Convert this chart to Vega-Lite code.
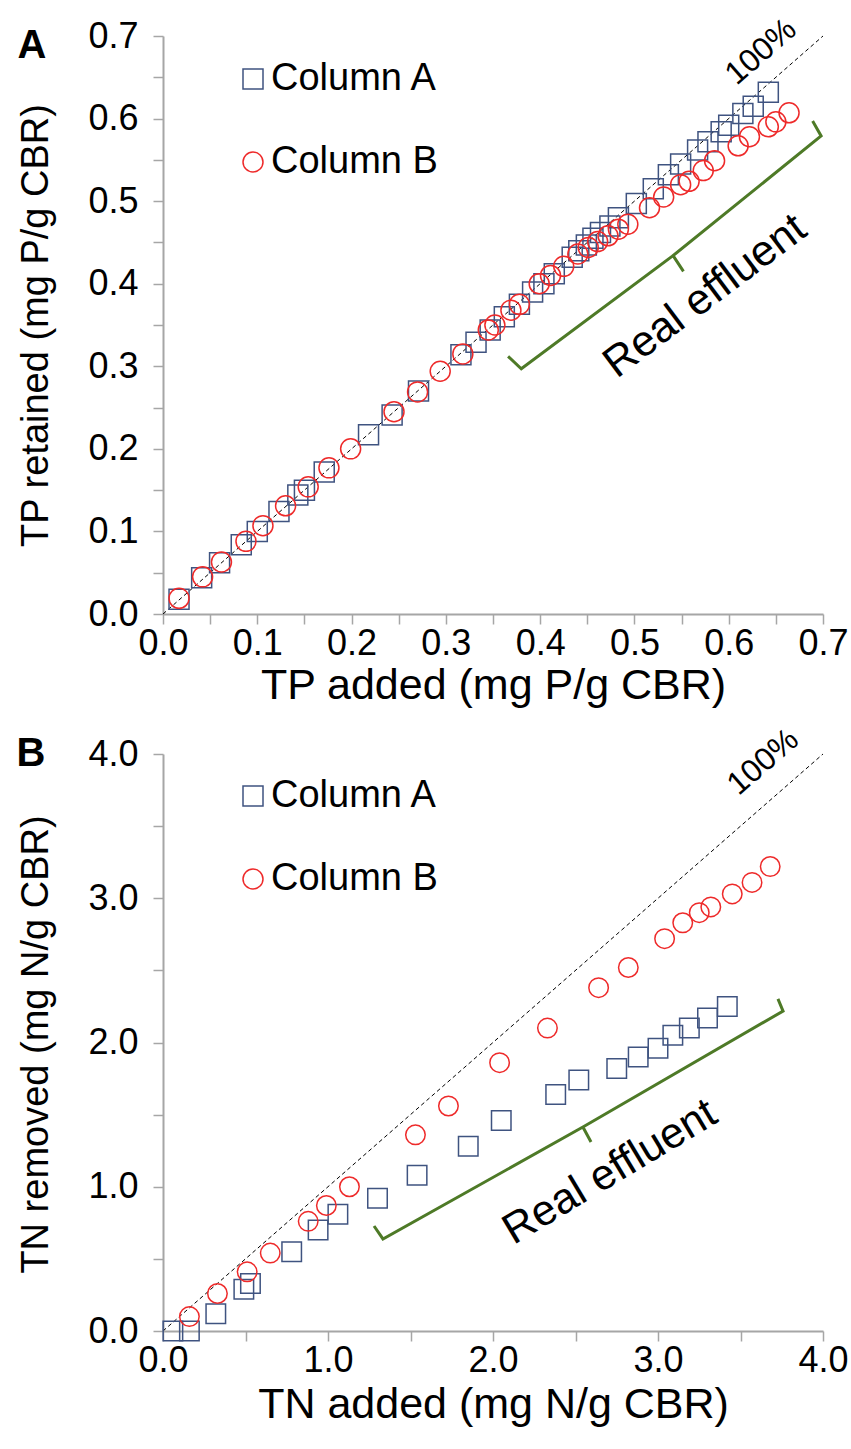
{
  "$schema": "https://vega.github.io/schema/vega-lite/v6.json",
  "padding": {"left": 16, "top": 12, "right": 5, "bottom": 5},
  "background": "white",
  "config": {
    "font": "Liberation Sans",
    "view": {"stroke": null},
    "axis": {
      "grid": false, "domainColor": "#a6a6a6", "domainWidth": 2,
      "tickColor": "#a6a6a6", "tickWidth": 1.5, "tickSize": 10,
      "labelFont": "Liberation Sans", "labelFontSize": 36, "labelColor": "#000000",
      "titleFont": "Liberation Sans", "titleFontSize": 38, "titleFontWeight": "normal", "titleColor": "#000000",
      "labelOverlap": false, "labelFlush": false, "labelBound": false
    },
    "legend": {
      "labelFont": "Liberation Sans", "labelFontSize": 38, "labelColor": "#000000", "labelLimit": 0,
      "symbolSize": 400, "symbolStrokeWidth": 1.5, "rowPadding": 45, "labelOffset": -1, "padding": 0
    }
  },
  "datasets": {
    "pa": [
      {"series":"Column A","x":0.017,"y":0.018},{"series":"Column A","x":0.041,"y":0.044},{"series":"Column A","x":0.060,"y":0.062},
      {"series":"Column A","x":0.083,"y":0.084},{"series":"Column A","x":0.100,"y":0.100},{"series":"Column A","x":0.123,"y":0.124},
      {"series":"Column A","x":0.143,"y":0.144},{"series":"Column A","x":0.150,"y":0.150},{"series":"Column A","x":0.171,"y":0.172},
      {"series":"Column A","x":0.218,"y":0.217},{"series":"Column A","x":0.243,"y":0.241},{"series":"Column A","x":0.271,"y":0.270},
      {"series":"Column A","x":0.316,"y":0.314},{"series":"Column A","x":0.332,"y":0.329},{"series":"Column A","x":0.347,"y":0.344},
      {"series":"Column A","x":0.362,"y":0.360},{"series":"Column A","x":0.378,"y":0.375},{"series":"Column A","x":0.392,"y":0.390},
      {"series":"Column A","x":0.404,"y":0.400},{"series":"Column A","x":0.415,"y":0.412},{"series":"Column A","x":0.434,"y":0.432},
      {"series":"Column A","x":0.441,"y":0.440},{"series":"Column A","x":0.449,"y":0.447},{"series":"Column A","x":0.456,"y":0.455},
      {"series":"Column A","x":0.464,"y":0.462},{"series":"Column A","x":0.474,"y":0.470},{"series":"Column A","x":0.483,"y":0.480},
      {"series":"Column A","x":0.502,"y":0.497},{"series":"Column A","x":0.520,"y":0.515},{"series":"Column A","x":0.536,"y":0.532},
      {"series":"Column A","x":0.549,"y":0.545},{"series":"Column A","x":0.567,"y":0.562},{"series":"Column A","x":0.578,"y":0.572},
      {"series":"Column A","x":0.592,"y":0.584},{"series":"Column A","x":0.600,"y":0.592},{"series":"Column A","x":0.615,"y":0.606},
      {"series":"Column A","x":0.626,"y":0.615},{"series":"Column A","x":0.642,"y":0.632},
      {"series":"Column B","x":0.017,"y":0.019},{"series":"Column B","x":0.042,"y":0.045},{"series":"Column B","x":0.062,"y":0.063},
      {"series":"Column B","x":0.088,"y":0.088},{"series":"Column B","x":0.106,"y":0.107},{"series":"Column B","x":0.130,"y":0.131},
      {"series":"Column B","x":0.154,"y":0.154},{"series":"Column B","x":0.176,"y":0.177},{"series":"Column B","x":0.199,"y":0.200},
      {"series":"Column B","x":0.245,"y":0.245},{"series":"Column B","x":0.270,"y":0.269},{"series":"Column B","x":0.294,"y":0.294},
      {"series":"Column B","x":0.318,"y":0.315},{"series":"Column B","x":0.345,"y":0.344},{"series":"Column B","x":0.352,"y":0.350},
      {"series":"Column B","x":0.369,"y":0.368},{"series":"Column B","x":0.378,"y":0.375},{"series":"Column B","x":0.399,"y":0.400},
      {"series":"Column B","x":0.411,"y":0.410},{"series":"Column B","x":0.425,"y":0.421},{"series":"Column B","x":0.440,"y":0.436},
      {"series":"Column B","x":0.451,"y":0.444},{"series":"Column B","x":0.461,"y":0.451},{"series":"Column B","x":0.472,"y":0.458},
      {"series":"Column B","x":0.483,"y":0.466},{"series":"Column B","x":0.493,"y":0.472},{"series":"Column B","x":0.516,"y":0.492},
      {"series":"Column B","x":0.531,"y":0.505},{"series":"Column B","x":0.549,"y":0.520},{"series":"Column B","x":0.558,"y":0.524},
      {"series":"Column B","x":0.573,"y":0.537},{"series":"Column B","x":0.585,"y":0.549},{"series":"Column B","x":0.610,"y":0.567},
      {"series":"Column B","x":0.622,"y":0.578},{"series":"Column B","x":0.642,"y":0.590},{"series":"Column B","x":0.650,"y":0.596},
      {"series":"Column B","x":0.664,"y":0.607}
    ],
    "pb": [
      {"series":"Column A","x":0.06,"y":0.0},{"series":"Column A","x":0.16,"y":0.0},{"series":"Column A","x":0.32,"y":0.12},
      {"series":"Column A","x":0.49,"y":0.29},{"series":"Column A","x":0.53,"y":0.33},{"series":"Column A","x":0.78,"y":0.55},
      {"series":"Column A","x":0.94,"y":0.70},{"series":"Column A","x":1.06,"y":0.81},{"series":"Column A","x":1.30,"y":0.92},
      {"series":"Column A","x":1.54,"y":1.08},{"series":"Column A","x":1.85,"y":1.28},{"series":"Column A","x":2.05,"y":1.46},
      {"series":"Column A","x":2.38,"y":1.64},{"series":"Column A","x":2.52,"y":1.74},{"series":"Column A","x":2.75,"y":1.82},
      {"series":"Column A","x":2.88,"y":1.90},{"series":"Column A","x":3.00,"y":1.96},{"series":"Column A","x":3.09,"y":2.05},
      {"series":"Column A","x":3.19,"y":2.10},{"series":"Column A","x":3.30,"y":2.17},{"series":"Column A","x":3.42,"y":2.25},
      {"series":"Column B","x":0.16,"y":0.10},{"series":"Column B","x":0.33,"y":0.26},{"series":"Column B","x":0.51,"y":0.41},
      {"series":"Column B","x":0.65,"y":0.54},{"series":"Column B","x":0.88,"y":0.76},{"series":"Column B","x":0.99,"y":0.87},
      {"series":"Column B","x":1.13,"y":1.00},{"series":"Column B","x":1.53,"y":1.36},{"series":"Column B","x":1.73,"y":1.56},
      {"series":"Column B","x":2.04,"y":1.86},{"series":"Column B","x":2.33,"y":2.10},{"series":"Column B","x":2.64,"y":2.38},
      {"series":"Column B","x":2.82,"y":2.52},{"series":"Column B","x":3.04,"y":2.72},{"series":"Column B","x":3.15,"y":2.83},
      {"series":"Column B","x":3.25,"y":2.90},{"series":"Column B","x":3.32,"y":2.94},{"series":"Column B","x":3.45,"y":3.03},
      {"series":"Column B","x":3.57,"y":3.11},{"series":"Column B","x":3.68,"y":3.22}
    ],
    "braceA": [
      {"i":0,"x":0.366,"y":0.312},{"i":1,"x":0.380,"y":0.297},{"i":2,"x":0.541,"y":0.434},{"i":3,"x":0.552,"y":0.415},
      {"i":4,"x":0.541,"y":0.434},{"i":5,"x":0.698,"y":0.579},{"i":6,"x":0.689,"y":0.597}
    ],
    "braceB": [
      {"i":0,"x":1.279,"y":0.728},{"i":1,"x":1.333,"y":0.638},{"i":2,"x":2.545,"y":1.414},{"i":3,"x":2.594,"y":1.310},
      {"i":4,"x":2.545,"y":1.414},{"i":5,"x":3.758,"y":2.218},{"i":6,"x":3.727,"y":2.302}
    ]
  },
  "spacing": 140,
  "bounds": "flush",
  "resolve": {"scale": {"color": "independent", "shape": "independent", "x": "independent", "y": "independent"}},
  "vconcat": [
    {
      "width": 660, "height": 578,
      "encoding": {
        "x": {"field": "x", "type": "quantitative",
          "scale": {"domain": [0, 0.7], "nice": false, "zero": false},
          "axis": {"title": "TP added (mg P/g CBR)",
            "values": [0,0.05,0.1,0.15,0.2,0.25,0.3,0.35,0.4,0.45,0.5,0.55,0.6,0.65,0.7],
            "labelExpr": "abs(datum.value*10 - round(datum.value*10)) < 0.001 ? format(datum.value, '.1f') : ''",
            "labelPadding": 2, "titleX": 330, "titleY": 71, "titleBaseline": "middle", "titleFontSize": 43}},
        "y": {"field": "y", "type": "quantitative",
          "scale": {"domain": [0, 0.7], "nice": false, "zero": false},
          "axis": {"title": "TP retained (mg P/g CBR)",
            "values": [0,0.05,0.1,0.15,0.2,0.25,0.3,0.35,0.4,0.45,0.5,0.55,0.6,0.65,0.7],
            "labelExpr": "abs(datum.value*10 - round(datum.value*10)) < 0.001 ? format(datum.value, '.1f') : ''",
            "labelPadding": 15, "titleX": -146, "titleY": 289, "titleBaseline": "top", "titleAlign": "center"}}
      },
      "layer": [
        {
          "data": {"values": [{"x": 0, "y": 0}, {"x": 0.7, "y": 0.7}]},
          "mark": {"type": "line", "color": "#000000", "strokeWidth": 1, "strokeDash": [4, 3]}
        },
        {
          "data": {"name": "pa"},
          "mark": {"type": "point", "filled": false, "strokeWidth": 1.5, "size": 400, "opacity": 1},
          "encoding": {
            "shape": {"field": "series", "type": "nominal",
              "scale": {"domain": ["Column A", "Column B"], "range": ["square", "circle"]},
              "legend": {"title": null, "orient": "none", "legendX": 71, "legendY": 24}},
            "color": {"field": "series", "type": "nominal",
              "scale": {"domain": ["Column A", "Column B"], "range": ["#3f5380", "#ee2a2a"]},
              "legend": {"title": null, "orient": "none", "legendX": 71, "legendY": 24}}
          }
        },
        {
          "data": {"name": "braceA"},
          "mark": {"type": "line", "color": "#4e7a27", "strokeWidth": 3},
          "encoding": {"order": {"field": "i", "type": "quantitative"}}
        },
        {
          "data": {"values": [{"x": 0.575, "y": 0.385, "t": "Real effluent"}]},
          "mark": {"type": "text", "angle": -37, "fontSize": 43, "align": "center", "baseline": "middle", "color": "#000000"},
          "encoding": {"text": {"field": "t"}}
        },
        {
          "data": {"values": [{"x": 0.634, "y": 0.681, "t": "100%"}]},
          "mark": {"type": "text", "angle": -41, "fontSize": 32, "align": "center", "baseline": "middle", "color": "#000000"},
          "encoding": {"text": {"field": "t"}}
        },
        {
          "data": {"values": [{"x": -0.139, "y": 0.688, "t": "A"}]},
          "mark": {"type": "text", "fontSize": 40, "fontWeight": "bold", "align": "center", "baseline": "middle", "color": "#000000"},
          "encoding": {"text": {"field": "t"}}
        }
      ]
    },
    {
      "width": 660, "height": 577,
      "encoding": {
        "x": {"field": "x", "type": "quantitative",
          "scale": {"domain": [0, 4], "nice": false, "zero": false},
          "axis": {"title": "TN added (mg N/g CBR)",
            "values": [0,0.5,1,1.5,2,2.5,3,3.5,4],
            "labelExpr": "abs(datum.value - round(datum.value)) < 0.001 ? format(datum.value, '.1f') : ''",
            "labelPadding": 2, "titleX": 330, "titleY": 73, "titleBaseline": "middle", "titleFontSize": 43}},
        "y": {"field": "y", "type": "quantitative",
          "scale": {"domain": [0, 4], "nice": false, "zero": false},
          "axis": {"title": "TN removed (mg N/g CBR)",
            "values": [0,0.5,1,1.5,2,2.5,3,3.5,4],
            "labelExpr": "abs(datum.value - round(datum.value)) < 0.001 ? format(datum.value, '.1f') : ''",
            "labelPadding": 15, "titleX": -146, "titleY": 290, "titleBaseline": "top", "titleAlign": "center"}}
      },
      "layer": [
        {
          "data": {"values": [{"x": 0, "y": 0}, {"x": 4, "y": 4}]},
          "mark": {"type": "line", "color": "#000000", "strokeWidth": 1, "strokeDash": [4, 3]}
        },
        {
          "data": {"name": "pb"},
          "mark": {"type": "point", "filled": false, "strokeWidth": 1.5, "size": 380, "opacity": 1},
          "encoding": {
            "shape": {"field": "series", "type": "nominal",
              "scale": {"domain": ["Column A", "Column B"], "range": ["square", "circle"]},
              "legend": {"title": null, "orient": "none", "legendX": 71, "legendY": 23}},
            "color": {"field": "series", "type": "nominal",
              "scale": {"domain": ["Column A", "Column B"], "range": ["#3f5380", "#ee2a2a"]},
              "legend": {"title": null, "orient": "none", "legendX": 71, "legendY": 23}}
          }
        },
        {
          "data": {"name": "braceB"},
          "mark": {"type": "line", "color": "#4e7a27", "strokeWidth": 3},
          "encoding": {"order": {"field": "i", "type": "quantitative"}}
        },
        {
          "data": {"values": [{"x": 2.709, "y": 1.102, "t": "Real effluent"}]},
          "mark": {"type": "text", "angle": -31, "fontSize": 43, "align": "center", "baseline": "middle", "color": "#000000"},
          "encoding": {"text": {"field": "t"}}
        },
        {
          "data": {"values": [{"x": 3.636, "y": 3.945, "t": "100%"}]},
          "mark": {"type": "text", "angle": -41, "fontSize": 32, "align": "center", "baseline": "middle", "color": "#000000"},
          "encoding": {"text": {"field": "t"}}
        },
        {
          "data": {"values": [{"x": -0.8, "y": 4.0, "t": "B"}]},
          "mark": {"type": "text", "fontSize": 40, "fontWeight": "bold", "align": "center", "baseline": "middle", "color": "#000000"},
          "encoding": {"text": {"field": "t"}}
        }
      ]
    }
  ]
}
